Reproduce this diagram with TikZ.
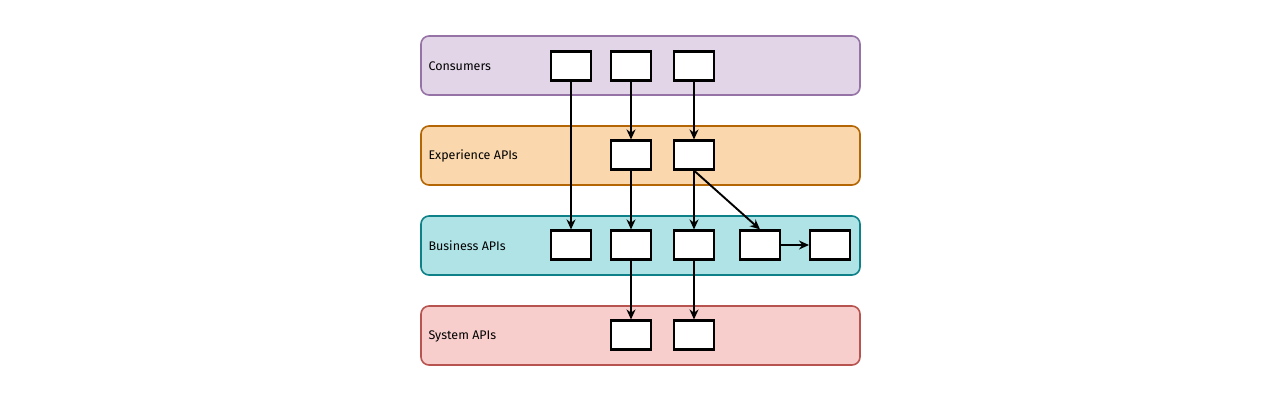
\documentclass[tikz,border=0pt]{standalone}
\usepackage{fontspec}
\setmainfont{Fira Sans}
\usetikzlibrary{arrows.meta}

\definecolor{consfill}{HTML}{E1D5E7}
\definecolor{consline}{HTML}{9673A6}
\definecolor{expfill}{HTML}{FAD7AC}
\definecolor{expline}{HTML}{B46504}
\definecolor{busfill}{HTML}{B0E3E6}
\definecolor{busline}{HTML}{0E8088}
\definecolor{sysfill}{HTML}{F8CECC}
\definecolor{sysline}{HTML}{B85450}

\tikzset{
	layer/.style={line width=1.6pt,rounded corners=8pt},
	apibox/.style={draw=black,fill=white,line width=2.1pt,minimum width=40pt,
		minimum height=29pt,inner sep=0pt},
	call/.style={line width=1.9pt,-{Stealth[length=10pt,width=9pt]}},
	layername/.style={anchor=west,font=\fontsize{12.5}{14}\selectfont}
}

\begin{document}
\begin{tikzpicture}[x=1pt,y=-1pt]
	\useasboundingbox (0,0) rectangle (1280,400);
	% les couches
	\draw[layer,draw=consline,fill=consfill] (421,36) rectangle (860,95);
	\draw[layer,draw=expline,fill=expfill] (421,126) rectangle (860,185);
	\draw[layer,draw=busline,fill=busfill] (421,216) rectangle (860,275);
	\draw[layer,draw=sysline,fill=sysfill] (421,306) rectangle (860,365);
	\node[layername] (lcons) at (425,66) {Consumers};
	\node[layername] (lexp) at (425,156) {Experience APIs};
	\node[layername] (lbus) at (425,246) {Business APIs};
	\node[layername] (lsys) at (425,336) {System APIs};

	% les boites
	\node[apibox] (c1) at (571,66) {};
	\node[apibox] (c2) at (631,66) {};
	\node[apibox] (c3) at (694,66) {};
	\node[apibox] (e1) at (631,155) {};
	\node[apibox] (e2) at (694,155) {};
	\node[apibox] (b1) at (571,245) {};
	\node[apibox] (b2) at (631,245) {};
	\node[apibox] (b3) at (694,245) {};
	\node[apibox] (b4) at (760,245) {};
	\node[apibox] (b5) at (830,245) {};
	\node[apibox] (s1) at (631,335) {};
	\node[apibox] (s2) at (694,335) {};

	% les appels
	\draw[call] (c1) -- (b1);
	\draw[call] (c2) -- (e1);
	\draw[call] (c3) -- (e2);
	\draw[call] (e1) -- (b2);
	\draw[call] (e2) -- (b3);
	\draw[call] (e2.south) -- (b4.north);
	\draw[call] (b4) -- (b5);
	\draw[call] (b2) -- (s1);
	\draw[call] (b3) -- (s2);
\end{tikzpicture}
\end{document}
